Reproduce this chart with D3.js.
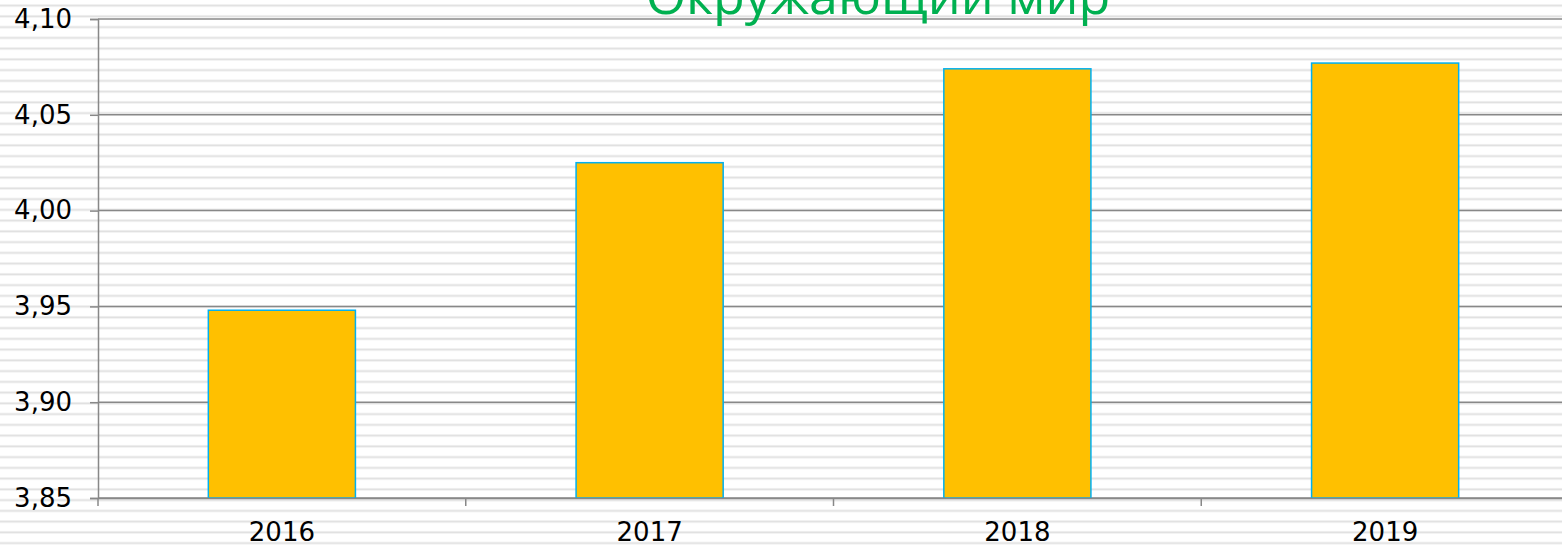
<!DOCTYPE html>
<html>
<head>
<meta charset="utf-8">
<script src="https://cdn.jsdelivr.net/npm/d3@7"></script>
<style>
  html, body { margin: 0; padding: 0; background: #fff; overflow: hidden; }
  svg { display: block; }
</style>
</head>
<body>
<svg id="chart" width="1562" height="549"></svg>
<script>
const title = "Окружающий мир";
const categories = ["2016", "2017", "2018", "2019"];
const values = [3.948, 4.025, 4.074, 4.077];
const yTicks = [3.85, 3.90, 3.95, 4.00, 4.05, 4.10];

(function () {
const W = 1562, H = 549;
const svg = d3.select("#chart");
const defs = svg.append("defs");

// striped background pattern
const pat = defs.append("pattern")
  .attr("id", "stripes").attr("patternUnits", "userSpaceOnUse")
  .attr("x", 0).attr("y", 4.2).attr("width", 20).attr("height", 10.75);
pat.append("rect").attr("width", 20).attr("height", 10.75).attr("fill", "#ffffff");
pat.append("rect").attr("y", 0).attr("width", 20).attr("height", 0.8).attr("fill", "#f0f0f0");
pat.append("rect").attr("y", 0.8).attr("width", 20).attr("height", 1.3).attr("fill", "#e0e0e0");
pat.append("rect").attr("y", 2.1).attr("width", 20).attr("height", 0.8).attr("fill", "#f0f0f0");

svg.append("rect").attr("width", W).attr("height", H).attr("fill", "url(#stripes)");

const pLeft = 98, pRight = 1569, pTop = 19, pBottom = 498;
const x = d3.scaleBand().domain(categories).range([pLeft, pRight]).paddingInner(0.6).paddingOuter(0.3);
const xb = d3.scaleBand().domain(categories).range([pLeft, pRight]).padding(0);
const y = d3.scaleLinear().domain([3.85, 4.10]).range([pBottom, pTop]);

const fmt = d => d.toFixed(2).replace(".", ",");

// gridlines
svg.append("g").selectAll("line").data(yTicks).join("line")
  .attr("x1", pLeft).attr("x2", pRight)
  .attr("y1", d => y(d)).attr("y2", d => y(d))
  .attr("stroke", "#888888").attr("stroke-width", 1.5);

// bars
svg.append("g").selectAll("rect").data(values).join("rect")
  .attr("x", (d, i) => x(categories[i]))
  .attr("width", x.bandwidth())
  .attr("y", d => y(d))
  .attr("height", d => y(3.85) - y(d))
  .attr("fill", "#ffc000")
  .attr("stroke", "#00b0f0").attr("stroke-width", 1.5);

// y axis
const yAxis = d3.axisLeft(y).tickValues(yTicks).tickFormat(fmt).tickSize(8).tickPadding(18);
const gy = svg.append("g").attr("transform", `translate(${pLeft},0)`).call(yAxis);
gy.select(".domain").attr("stroke", "#888888").attr("stroke-width", 1.5);
gy.selectAll(".tick line").attr("stroke", "#888888").attr("stroke-width", 1.5);
gy.selectAll(".tick text").attr("font-family", "DejaVu Sans, Verdana, sans-serif")
  .attr("font-size", 26).attr("fill", "#000");

// x axis
const xAxis = d3.axisBottom(xb).tickSize(0).tickPadding(25);
const gx = svg.append("g").attr("transform", `translate(0,${pBottom})`).call(xAxis);
gx.select(".domain").attr("stroke", "#888888").attr("stroke-width", 1.5);
gx.selectAll(".tick text").attr("font-family", "DejaVu Sans, Verdana, sans-serif")
  .attr("font-size", 26).attr("fill", "#000");
const bounds = d3.range(categories.length + 1).map(i => pLeft + i * xb.step());
gx.append("g").selectAll("line").data(bounds).join("line")
  .attr("x1", d => d).attr("x2", d => d)
  .attr("y1", 0).attr("y2", 8)
  .attr("stroke", "#888888").attr("stroke-width", 1.5);

// title (cut at top, as in the reference)
svg.append("text").attr("x", 878).attr("y", 14)
  .attr("text-anchor", "middle")
  .attr("font-family", "Open Sans, Liberation Sans, sans-serif")
  .attr("font-size", 52).attr("fill", "#00b050")
  .text(title);
})();
</script>
</body>
</html>
